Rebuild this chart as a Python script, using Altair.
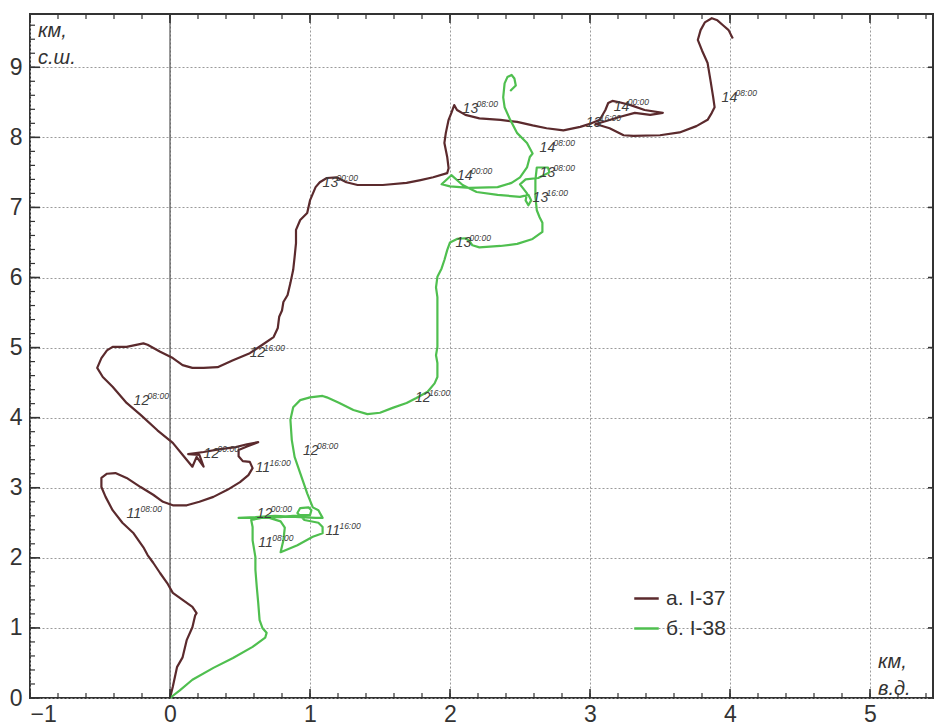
import altair as alt
import pandas as pd

# ---- Track "а. I-37" (km east, km north from the release point) ----
a_x = [0.00, 0.02, 0.05, 0.09, 0.12, 0.16, 0.18, 0.19, 0.16, 0.09,
       0.02, -0.02, -0.07, -0.12, -0.16, -0.19, -0.26, -0.34, -0.41, -0.46,
       -0.49, -0.49, -0.45, -0.39, -0.31, -0.21, -0.12, -0.05, 0.02, 0.12,
       0.21, 0.31, 0.41, 0.50, 0.56, 0.59, 0.57, 0.52, 0.49, 0.49,
       0.55, 0.63, 0.55, 0.47, 0.36, 0.24, 0.13, 0.21, 0.24, 0.19,
       0.16, 0.11, 0.02, -0.09, -0.21, -0.31, -0.41, -0.48, -0.52, -0.49,
       -0.45, -0.41, -0.31, -0.19, -0.16, -0.07, 0.02, 0.09, 0.16, 0.24,
       0.34, 0.45, 0.57, 0.66, 0.74, 0.77, 0.78, 0.80, 0.81, 0.84,
       0.86, 0.88, 0.89, 0.90, 0.90, 0.93, 0.98, 1.00, 1.04, 1.07,
       1.12, 1.19, 1.26, 1.34, 1.52, 1.69, 1.79, 1.88, 1.98, 1.99,
       1.98, 1.96, 1.97, 1.99, 2.01, 2.03, 2.05, 2.11, 2.21, 2.36,
       2.48, 2.59, 2.69, 2.81, 2.93, 3.01, 3.07, 3.11, 3.13, 3.16,
       3.21, 3.29, 3.39, 3.52, 3.43, 3.32, 3.21, 3.11, 3.04, 3.14,
       3.24, 3.31, 3.50, 3.64, 3.76, 3.84, 3.87, 3.89, 3.88, 3.86,
       3.84, 3.80, 3.77, 3.79, 3.82, 3.87, 3.91, 3.95, 3.99, 4.02]
a_y = [0.00, 0.16, 0.44, 0.58, 0.83, 1.01, 1.18, 1.21, 1.30, 1.40,
       1.50, 1.64, 1.78, 1.93, 2.04, 2.15, 2.35, 2.50, 2.68, 2.87,
       3.01, 3.14, 3.20, 3.21, 3.14, 3.01, 2.90, 2.80, 2.75, 2.75,
       2.80, 2.87, 2.97, 3.08, 3.18, 3.28, 3.37, 3.38, 3.45, 3.54,
       3.59, 3.65, 3.62, 3.58, 3.55, 3.51, 3.48, 3.47, 3.30, 3.44,
       3.30, 3.42, 3.64, 3.82, 4.04, 4.21, 4.44, 4.58, 4.71, 4.85,
       4.96, 5.01, 5.01, 5.06, 5.04, 4.94, 4.85, 4.75, 4.71, 4.71,
       4.72, 4.82, 4.92, 5.04, 5.15, 5.28, 5.44, 5.53, 5.65, 5.75,
       5.92, 6.11, 6.29, 6.49, 6.68, 6.82, 6.92, 7.10, 7.29, 7.36,
       7.42, 7.43, 7.36, 7.32, 7.32, 7.35, 7.39, 7.43, 7.49, 7.56,
       7.72, 7.92, 8.06, 8.25, 8.35, 8.46, 8.39, 8.32, 8.27, 8.25,
       8.22, 8.17, 8.13, 8.10, 8.15, 8.20, 8.25, 8.39, 8.49, 8.52,
       8.50, 8.46, 8.39, 8.35, 8.32, 8.35, 8.29, 8.23, 8.19, 8.13,
       8.03, 8.02, 8.03, 8.07, 8.16, 8.25, 8.35, 8.43, 8.57, 8.82,
       9.06, 9.24, 9.39, 9.53, 9.64, 9.70, 9.67, 9.60, 9.53, 9.41]

# ---- Track "б. I-38" ----
b_x = [0.00, 0.07, 0.16, 0.31, 0.45, 0.59, 0.68, 0.69, 0.66, 0.64,
       0.63, 0.62, 0.61, 0.61, 0.59, 0.59, 0.58, 0.68, 0.79, 0.93,
       1.00, 1.01, 0.99, 0.93, 0.91, 0.96, 1.06, 1.09, 1.09, 1.06,
       1.02, 0.91, 0.79, 0.81, 0.82, 0.79, 0.71, 0.57, 0.49, 0.61,
       0.75, 0.93, 1.04, 1.09, 1.06, 1.02, 0.98, 0.93, 0.89, 0.87,
       0.86, 0.88, 0.93, 1.00, 1.09, 1.12, 1.21, 1.31, 1.41, 1.50,
       1.59, 1.69, 1.76, 1.84, 1.89, 1.91, 1.91, 1.90, 1.91, 1.91,
       1.91, 1.91, 1.90, 1.91, 1.94, 1.96, 1.98, 2.00, 2.05, 2.11,
       2.14, 2.16, 2.21, 2.36, 2.48, 2.59, 2.66, 2.66, 2.64, 2.62,
       2.61, 2.61, 2.62, 2.70, 2.71, 2.63, 2.54, 2.50, 2.55, 2.54,
       2.56, 2.58, 2.56, 2.50, 2.34, 2.19, 2.09, 2.01, 1.94, 2.00,
       2.14, 2.34, 2.44, 2.50, 2.55, 2.57, 2.59, 2.55, 2.48, 2.43,
       2.39, 2.38, 2.39, 2.41, 2.44, 2.46, 2.47, 2.45, 2.43]
b_y = [0.00, 0.11, 0.26, 0.43, 0.57, 0.73, 0.86, 0.93, 1.00, 1.11,
       1.36, 1.58, 1.83, 2.01, 2.25, 2.44, 2.54, 2.58, 2.58, 2.61,
       2.61, 2.68, 2.72, 2.71, 2.64, 2.54, 2.50, 2.44, 2.35, 2.33,
       2.30, 2.18, 2.08, 2.25, 2.43, 2.52, 2.57, 2.57, 2.57, 2.58,
       2.60, 2.58, 2.57, 2.57, 2.68, 2.72, 2.92, 3.21, 3.44, 3.68,
       3.97, 4.15, 4.25, 4.29, 4.31, 4.29, 4.21, 4.11, 4.05, 4.07,
       4.14, 4.21, 4.28, 4.37, 4.49, 4.58, 4.78, 4.89, 5.01, 5.25,
       5.49, 5.72, 5.86, 6.01, 6.13, 6.25, 6.39, 6.50, 6.55, 6.56,
       6.52, 6.46, 6.43, 6.45, 6.48, 6.55, 6.65, 6.78, 6.86, 6.96,
       7.15, 7.39, 7.57, 7.57, 7.50, 7.42, 7.40, 7.33, 7.20, 7.10,
       7.03, 7.10, 7.18, 7.15, 7.18, 7.22, 7.32, 7.46, 7.33, 7.30,
       7.28, 7.29, 7.35, 7.43, 7.57, 7.72, 7.77, 7.92, 8.06, 8.25,
       8.43, 8.57, 8.77, 8.86, 8.89, 8.84, 8.74, 8.70, 8.66]

series_names = ["а. I-37", "б. I-38"]
series_colors = ["#5b2a2d", "#4fbf4f"]

# ---- Time stamps along the tracks: day + hour (superscript) ----
mark_day = ["11", "11", "12", "12", "12", "13", "13", "13", "14", "14"]
mark_hour = ["08:00", "16:00", "00:00", "08:00", "16:00",
             "00:00", "08:00", "16:00", "00:00", "08:00"]
a_mark_x = [-0.31, 0.61, 0.24, -0.26, 0.57, 1.09, 2.09, 2.97, 3.17, 3.94]
a_mark_y = [2.57, 3.22, 3.42, 4.18, 4.86, 7.29, 8.35, 8.15, 8.37, 8.50]
b_mark_x = [0.63, 1.11, 0.62, 0.95, 1.75, 2.04, 2.64, 2.59, 2.05, 2.64]
b_mark_y = [2.15, 2.33, 2.57, 3.47, 4.22, 6.43, 7.43, 7.08, 7.39, 7.79]

# ---- Axis ticks ----
x_major = [-1, 0, 1, 2, 3, 4, 5]
y_major = [0, 1, 2, 3, 4, 5, 6, 7, 8, 9]
x_minor = [round(-1 + 0.2 * k, 1) for k in range(33)]
y_minor = [round(0.2 * k, 1) for k in range(49)]

X_DOMAIN = [-1, 5.45]
Y_DOMAIN = [0, 9.76]
W, H = 903, 684
FONT = "Liberation Sans"
INK = "#333333"

xs = alt.Scale(domain=X_DOMAIN, nice=False, zero=False)
ys = alt.Scale(domain=Y_DOMAIN, nice=False, zero=False)

# One shared axis definition per channel, reused by every layer
x_axis = alt.Axis(values=x_major, format="d", title=None, tickSize=0, domain=False,
                  labelFontSize=23, labelFont=FONT, labelColor=INK, labelPadding=5,
                  grid=True, gridDash=[2, 2], gridColor="#9a9a9a", gridWidth=1)
y_axis = alt.Axis(values=y_major, format="d", title=None, tickSize=0, domain=False,
                  labelFontSize=23, labelFont=FONT, labelColor=INK, labelPadding=8,
                  grid=True, gridDash=[2, 2], gridColor="#9a9a9a", gridWidth=1)


def X(field):
    return alt.X(field, scale=xs, axis=x_axis, title=None)


def Y(field):
    return alt.Y(field, scale=ys, axis=y_axis, title=None)


tracks = pd.concat([
    pd.DataFrame({"x": a_x, "y": a_y, "i": range(len(a_x)), "s": series_names[0]}),
    pd.DataFrame({"x": b_x, "y": b_y, "i": range(len(b_x)), "s": series_names[1]}),
])
marks = pd.concat([
    pd.DataFrame({"x": a_mark_x, "y": a_mark_y, "d": mark_day, "h": mark_hour}),
    pd.DataFrame({"x": b_mark_x, "y": b_mark_y, "d": mark_day, "h": mark_hour}),
])

# Solid meridian through the release point
zero_line = alt.Chart(pd.DataFrame({"x": [0]})).mark_rule(
    color="#555555", strokeWidth=1.2).encode(x=X("x:Q"))


def inward_ticks(values, side, length, width):
    ch = alt.Chart(pd.DataFrame({"x": values, "y": values})).mark_rule(
        color=INK, strokeWidth=width)
    if side == "bottom":
        return ch.encode(x=X("x:Q"), y=alt.value(H), y2=alt.value(H - length))
    if side == "top":
        return ch.encode(x=X("x:Q"), y=alt.value(0), y2=alt.value(length))
    if side == "left":
        return ch.encode(y=Y("y:Q"), x=alt.value(0), x2=alt.value(length))
    return ch.encode(y=Y("y:Q"), x=alt.value(W), x2=alt.value(W - length))


ticks = [
    inward_ticks(x_minor, "bottom", 5, 1.2), inward_ticks(x_major, "bottom", 9, 1.6),
    inward_ticks(x_minor, "top", 5, 1.2), inward_ticks(x_major, "top", 9, 1.6),
    inward_ticks(y_minor, "left", 5, 1.2), inward_ticks(y_major, "left", 10, 1.6),
    inward_ticks(y_major, "right", 5, 1.6),
]

lines = alt.Chart(tracks).mark_line(strokeWidth=2.2, strokeJoin="round").encode(
    x=X("x:Q"),
    y=Y("y:Q"),
    order="i:Q",
    color=alt.Color("s:N", scale=alt.Scale(domain=series_names, range=series_colors),
                    legend=alt.Legend(orient="none", legendX=603, legendY=571, title=None,
                                      labelFont=FONT, labelFontSize=21, labelColor=INK,
                                      symbolType="stroke", symbolSize=600,
                                      symbolStrokeWidth=2.5, labelOffset=6,
                                      rowPadding=6)),
)

day_text = alt.Chart(marks).mark_text(
    align="left", baseline="alphabetic", font=FONT, fontStyle="italic",
    fontSize=14, color="#3d3d3d").encode(x=X("x:Q"), y=Y("y:Q"), text="d:N")
hour_text = alt.Chart(marks).mark_text(
    align="left", baseline="alphabetic", font=FONT, fontStyle="italic",
    fontSize=8.5, color="#3d3d3d", dx=14, dy=-6).encode(
    x=X("x:Q"), y=Y("y:Q"), text="h:N")


def unit_label(lines_, px, py):
    return alt.Chart(pd.DataFrame({"t": [lines_]})).mark_text(
        align="left", baseline="top", font=FONT, fontStyle="italic", fontSize=20,
        color=INK, lineHeight=27).encode(x=alt.value(px), y=alt.value(py), text="t:N")


north_label = unit_label(["км,", "с.ш."], 8, 7)
east_label = unit_label(["км,", "в.д."], 848, 638)

chart = alt.layer(
    zero_line, lines, day_text, hour_text, *ticks, north_label, east_label
).properties(
    width=W, height=H,
    autosize=alt.AutoSizeParams(type="none"),
    padding={"left": 30, "top": 14, "right": 2, "bottom": 29},
    background="white",
).configure_view(stroke=INK, strokeWidth=2)

chart.save("out.html", embed_options={"renderer": "svg", "actions": False})
